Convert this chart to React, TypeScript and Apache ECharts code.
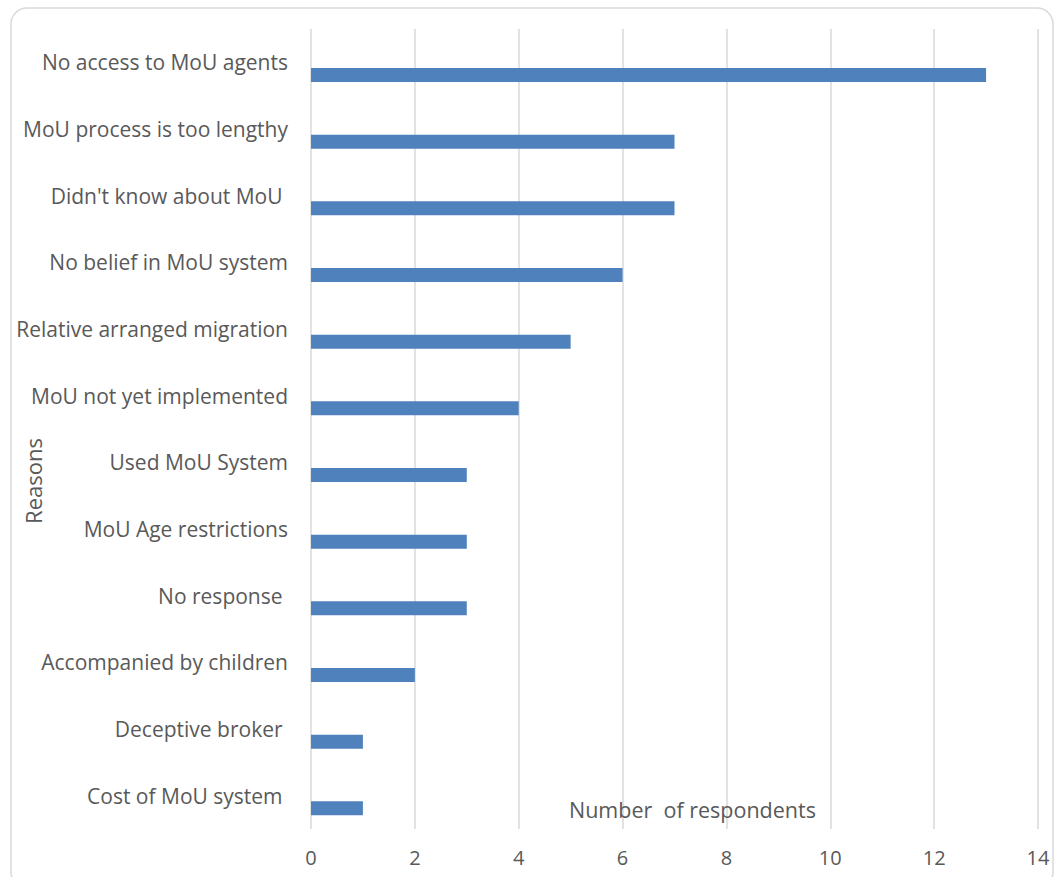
import React, { useEffect, useRef } from "react";
import * as echarts from "echarts";

const categories = [
  "No access to MoU agents",
  "MoU process is too lengthy",
  "Didn't know about MoU ",
  "No belief in MoU system",
  "Relative arranged migration",
  "MoU not yet implemented",
  "Used MoU System",
  "MoU Age restrictions",
  "No response ",
  "Accompanied by children",
  "Deceptive broker ",
  "Cost of MoU system ",
];
const respondents = [13, 7, 7, 6, 5, 4, 3, 3, 3, 2, 1, 1];
const xTicks = { min: 0, max: 14, interval: 2 };

const FONT = "'Open Sans', 'Liberation Sans', Arial, sans-serif";
const TXT = "#595959";

export default function App() {
  const ref = useRef<HTMLDivElement>(null);
  useEffect(() => {
    if (!ref.current) return;
    const chart = echarts.init(ref.current, undefined, { renderer: "svg" });
    chart.setOption({
      animation: false,
      backgroundColor: "#ffffff",
      textStyle: { fontFamily: FONT },
      title: {
        text: "Number  of respondents",
        left: 564,
        top: 793,
        textStyle: { fontFamily: FONT, fontSize: 21.5, color: TXT, fontWeight: "normal" },
      },
      graphic: [
        {
          type: "rect",
          shape: { x: 11, y: 8, width: 1042, height: 880, r: 16 },
          style: { fill: "none", stroke: "#d9d9d9", lineWidth: 1.5 },
          z: -1,
        },
        {
          type: "text",
          x: 33,
          y: 481,
          rotation: Math.PI / 2,
          style: {
            text: "Reasons",
            fontFamily: FONT,
            fontSize: 22,
            fill: TXT,
            align: "center",
            verticalAlign: "middle",
          },
        },
      ],
      grid: { left: 311, right: 19, top: 29, bottom: 48 },
      xAxis: {
        type: "value",
        min: xTicks.min,
        max: xTicks.max,
        interval: xTicks.interval,
        axisLine: { show: false },
        axisTick: { show: false },
        axisLabel: { fontFamily: FONT, fontSize: 20, color: TXT, margin: 18 },
        splitLine: { show: true, lineStyle: { color: "#d9d9d9", width: 1.5 } },
      },
      yAxis: {
        type: "category",
        data: categories,
        inverse: true,
        axisLine: { show: false },
        axisTick: { show: false },
        axisLabel: {
          margin: 23,
          fontFamily: FONT,
          fontSize: 21,
          color: TXT,
        },
      },
      series: [
        {
          type: "bar",
          name: "placeholder",
          data: [],
          barWidth: 14,
          barGap: "81%",
          silent: true,
          itemStyle: { color: "transparent" },
        },
        {
          type: "bar",
          name: "Number of respondents",
          data: respondents,
          barWidth: 14,
          barGap: "81%",
          itemStyle: { color: "#4f81bd" },
        },
      ],
    });
    return () => chart.dispose();
  }, []);
  return (
    <div
      ref={ref}
      style={{ position: "fixed", left: 0, top: 0, width: 1057, height: 877 }}
    />
  );
}
